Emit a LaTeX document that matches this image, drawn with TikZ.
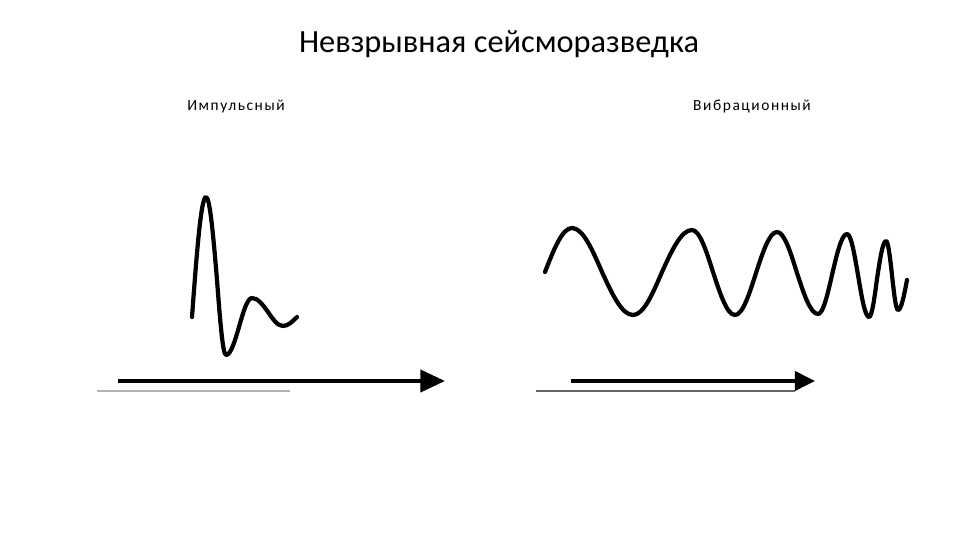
\documentclass[tikz,border=0pt]{standalone}
\usepackage{fontspec}
\setmainfont{Carlito}
\newfontfamily\labelfont[LetterSpace=10]{Carlito}
\usetikzlibrary{arrows.meta}

\tikzset{
	wave/.style={line width=2.4pt, line join=round, line cap=round},
	timeaxis/.style={line width=2.3pt},
	baseline/.style={line width=0.6pt},
	sublabel/.style={anchor=base, font=\labelfont\fontsize{8.8}{10}\selectfont}
}

\begin{document}
\begin{tikzpicture}[x=0.02cm, y=-0.02cm]
		%%%%% START %%%%%
		\useasboundingbox[fill=white] (0, 0) rectangle (960, 540);
		
		\node[anchor=base, font=\fontsize{18.4}{22}\selectfont] (title) at (499, 52.5) {Невзрывная сейсморазведка};
		\node[sublabel] (impulse) at (236, 110.5) {Импульсный};
		\node[sublabel] (vibro) at (752, 110.5) {Вибрационный};
		
		% impulse signal
		\draw[wave] (192, 317) sin (206, 197) cos (217, 280) sin (226, 355)
			cos (239, 327) sin (252, 298) cos (268, 312) sin (283, 326) cos (297, 317);
		
		\draw[baseline, color=black!30] (97, 391) -- (290, 391);
		\draw[timeaxis, -{Triangle[length=14pt, width=12.5pt]}] (118, 381) -- (445, 381);
		
		% sweep signal
		\draw[wave] (545, 272) sin (572, 228) cos (602, 272) sin (633, 315)
			cos (662, 272) sin (692, 230) cos (713, 272) sin (735, 315)
			cos (756, 273) sin (777, 232) cos (797, 273) sin (818, 314)
			cos (832, 275) sin (847, 234) cos (858, 275) sin (869, 317)
			cos (877, 279) sin (886, 241) cos (892, 275) sin (898, 310)
			cos (907, 280);
		
		\draw[baseline, color=black!60] (536, 391) -- (795, 391);
		\draw[timeaxis, line width=1.9pt, -{Triangle[length=11.5pt, width=11pt]}] (571, 381) -- (815, 381);
		
		%%%%% END %%%%%
	\end{tikzpicture}
\end{document}
